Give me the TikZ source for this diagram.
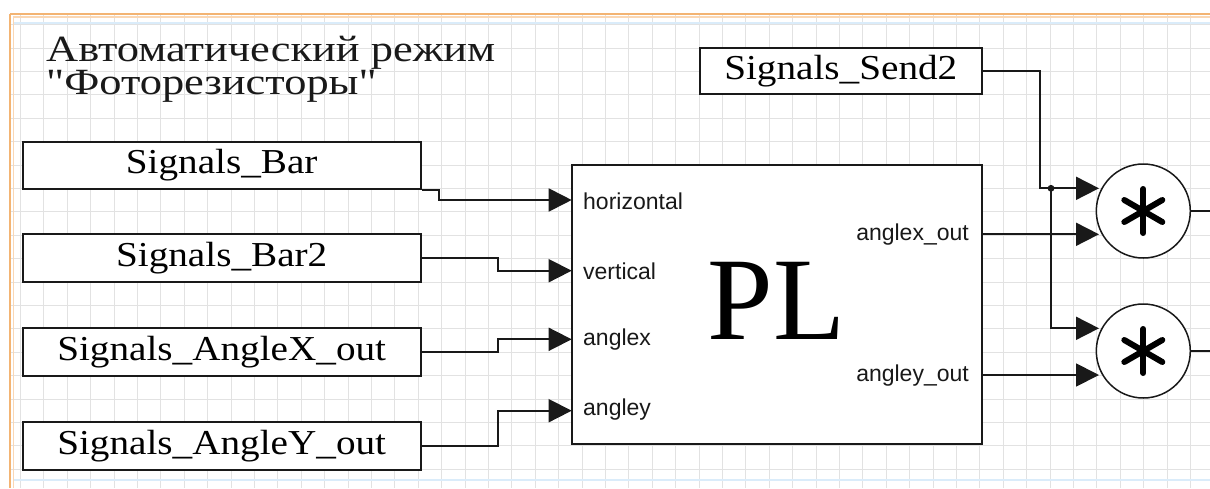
\documentclass[tikz,border=0pt]{standalone}
\usepackage{fontspec}
\setmainfont{Liberation Serif}
\newfontfamily\boxfont{Liberation Serif}[FakeStretch=1.12]
\newfontfamily\titlefont{Liberation Serif}[FakeStretch=1.2,Ligatures=TeXOff]
\newfontfamily\portfont{Liberation Sans}
\usetikzlibrary{arrows.meta,calc}
\definecolor{gridc}{RGB}{226,226,226}
\definecolor{framec}{RGB}{243,180,115}
\definecolor{framel}{RGB}{250,215,180}
\definecolor{bluec}{RGB}{218,236,250}
\definecolor{linec}{RGB}{25,25,25}
\begin{document}
\begin{tikzpicture}[x=1pt,y=-1pt,
  sigbox/.style={draw=linec,line width=1.8pt,fill=white,inner sep=0pt,
    font=\boxfont\fontsize{35}{35}\selectfont},
  plbox/.style={draw=linec,line width=1.8pt,fill=white,inner sep=0pt,
    minimum width=410pt,minimum height=279pt},
  mult/.style={draw=linec,line width=1.5pt,fill=white,circle,minimum size=94pt,inner sep=0pt},
  wire/.style={draw=linec,line width=1.8pt},
  arr/.style={wire,-{Triangle[length=23pt,width=23pt]}},
  port/.style={font=\portfont\fontsize{23}{23}\selectfont,text=linec,inner sep=0pt},
  titletext/.style={anchor=north west,inner sep=0pt,align=left,
    font=\titlefont\fontsize{37}{33}\selectfont,text=linec},
  star/.style={line width=6pt,line cap=round,draw=black}
]
\useasboundingbox (0,0) rectangle (1210,488);
\fill[white] (0,0) rectangle (1210,488);
% grid
\foreach \k in {0,...,50} {\draw[gridc,line width=1pt] ({20.5+23.4*\k},14) -- ({20.5+23.4*\k},488);}
\foreach \k in {1,...,20} {\draw[gridc,line width=1pt] (10,{1.3+23.4*\k}) -- (1210,{1.3+23.4*\k});}
% frame
\draw[bluec,line width=2pt] (14,23) -- (1210,23);
\draw[bluec,line width=2pt] (14,480) -- (1210,480);
\draw[framel,line width=1.5pt] (13,17) -- (1210,17);
\draw[framel,line width=1.5pt] (13.5,17) -- (13.5,488);
\draw[framec,line width=2pt] (10,14) -- (1210,14);
\draw[framec,line width=2pt] (10,14) -- (10,488);

% title
\node[titletext] (title) at (46,36) {Автоматический режим\\"Фоторезисторы"};

% signal boxes
\node[sigbox,minimum width=398pt,minimum height=47pt] (bar) at (221.7,165.3) {Signals\_Bar};
\node[sigbox,minimum width=398pt,minimum height=48pt] (bar2) at (221.7,258) {Signals\_Bar2};
\node[sigbox,minimum width=398pt,minimum height=48pt] (ax) at (221.7,352) {Signals\_AngleX\_out};
\node[sigbox,minimum width=398pt,minimum height=48pt] (ay) at (221.7,446) {Signals\_AngleY\_out};
\node[sigbox,minimum width=281.7pt,minimum height=46.6pt] (send) at (840.8,71) {Signals\_Send2};

% PL block
\node[plbox] (pl) at (776.7,304.7) {};
\node[font=\fontsize{118}{118}\selectfont,inner sep=0pt,text=black] (pltext) at (776.7,301) {PL};
\node[port,anchor=west] (lh) at (583,201) {horizontal};
\node[port,anchor=west] (lv) at (583,271) {vertical};
\node[port,anchor=west] (lx) at (583,340) {anglex};
\node[port,anchor=west] (ly) at (583,410) {angley};
\node[port,anchor=east] (lxo) at (969,235) {anglex\_out};
\node[port,anchor=east] (lyo) at (969,376) {angley\_out};

% port coordinates
\coordinate (in1) at (571.7,200);
\coordinate (in2) at (571.7,270.7);
\coordinate (in3) at (571.7,339.3);
\coordinate (in4) at (571.7,410.7);
\coordinate (o1) at (981.7,234.3);
\coordinate (o2) at (981.7,375);

% multipliers
\node[mult] (m1) at (1143.3,211) {};
\node[mult] (m2) at (1143.3,351) {};
\foreach \m in {m1,m2} {
  \draw[star] ($(\m.center)+(0,-22)$) -- ($(\m.center)+(0,22)$);
  \draw[star] ($(\m.center)+(-19,-11)$) -- ($(\m.center)+(19,11)$);
  \draw[star] ($(\m.center)+(-19,11)$) -- ($(\m.center)+(19,-11)$);
}
\coordinate (a1) at (1099,188.3);
\coordinate (b1) at (1099,234.3);
\coordinate (a2) at (1099,328.3);
\coordinate (b2) at (1099,375);
\coordinate (j) at (1051,188.3);
\coordinate (e1) at (1212,211);
\coordinate (e2) at (1212,351);

% wires
\draw[arr] (bar.south east) -- ++(17,0) |- (in1);
\draw[arr] (bar2.east) -- ++(76,0) |- (in2);
\draw[arr] (ax.east) -- ++(76,0) |- (in3);
\draw[arr] (ay.east) -- ++(76,0) |- (in4);
\draw[arr] (o1) -- (b1);
\draw[arr] (o2) -- (b2);
\draw[arr] (send.east) -- ++(57.3,0) |- (a1);
\draw[arr] (j) |- (a2);
\fill[linec] (j) circle (3.4pt);
\draw[wire] (m1.east) -- (e1);
\draw[wire] (m2.east) -- (e2);
\end{tikzpicture}
\end{document}
